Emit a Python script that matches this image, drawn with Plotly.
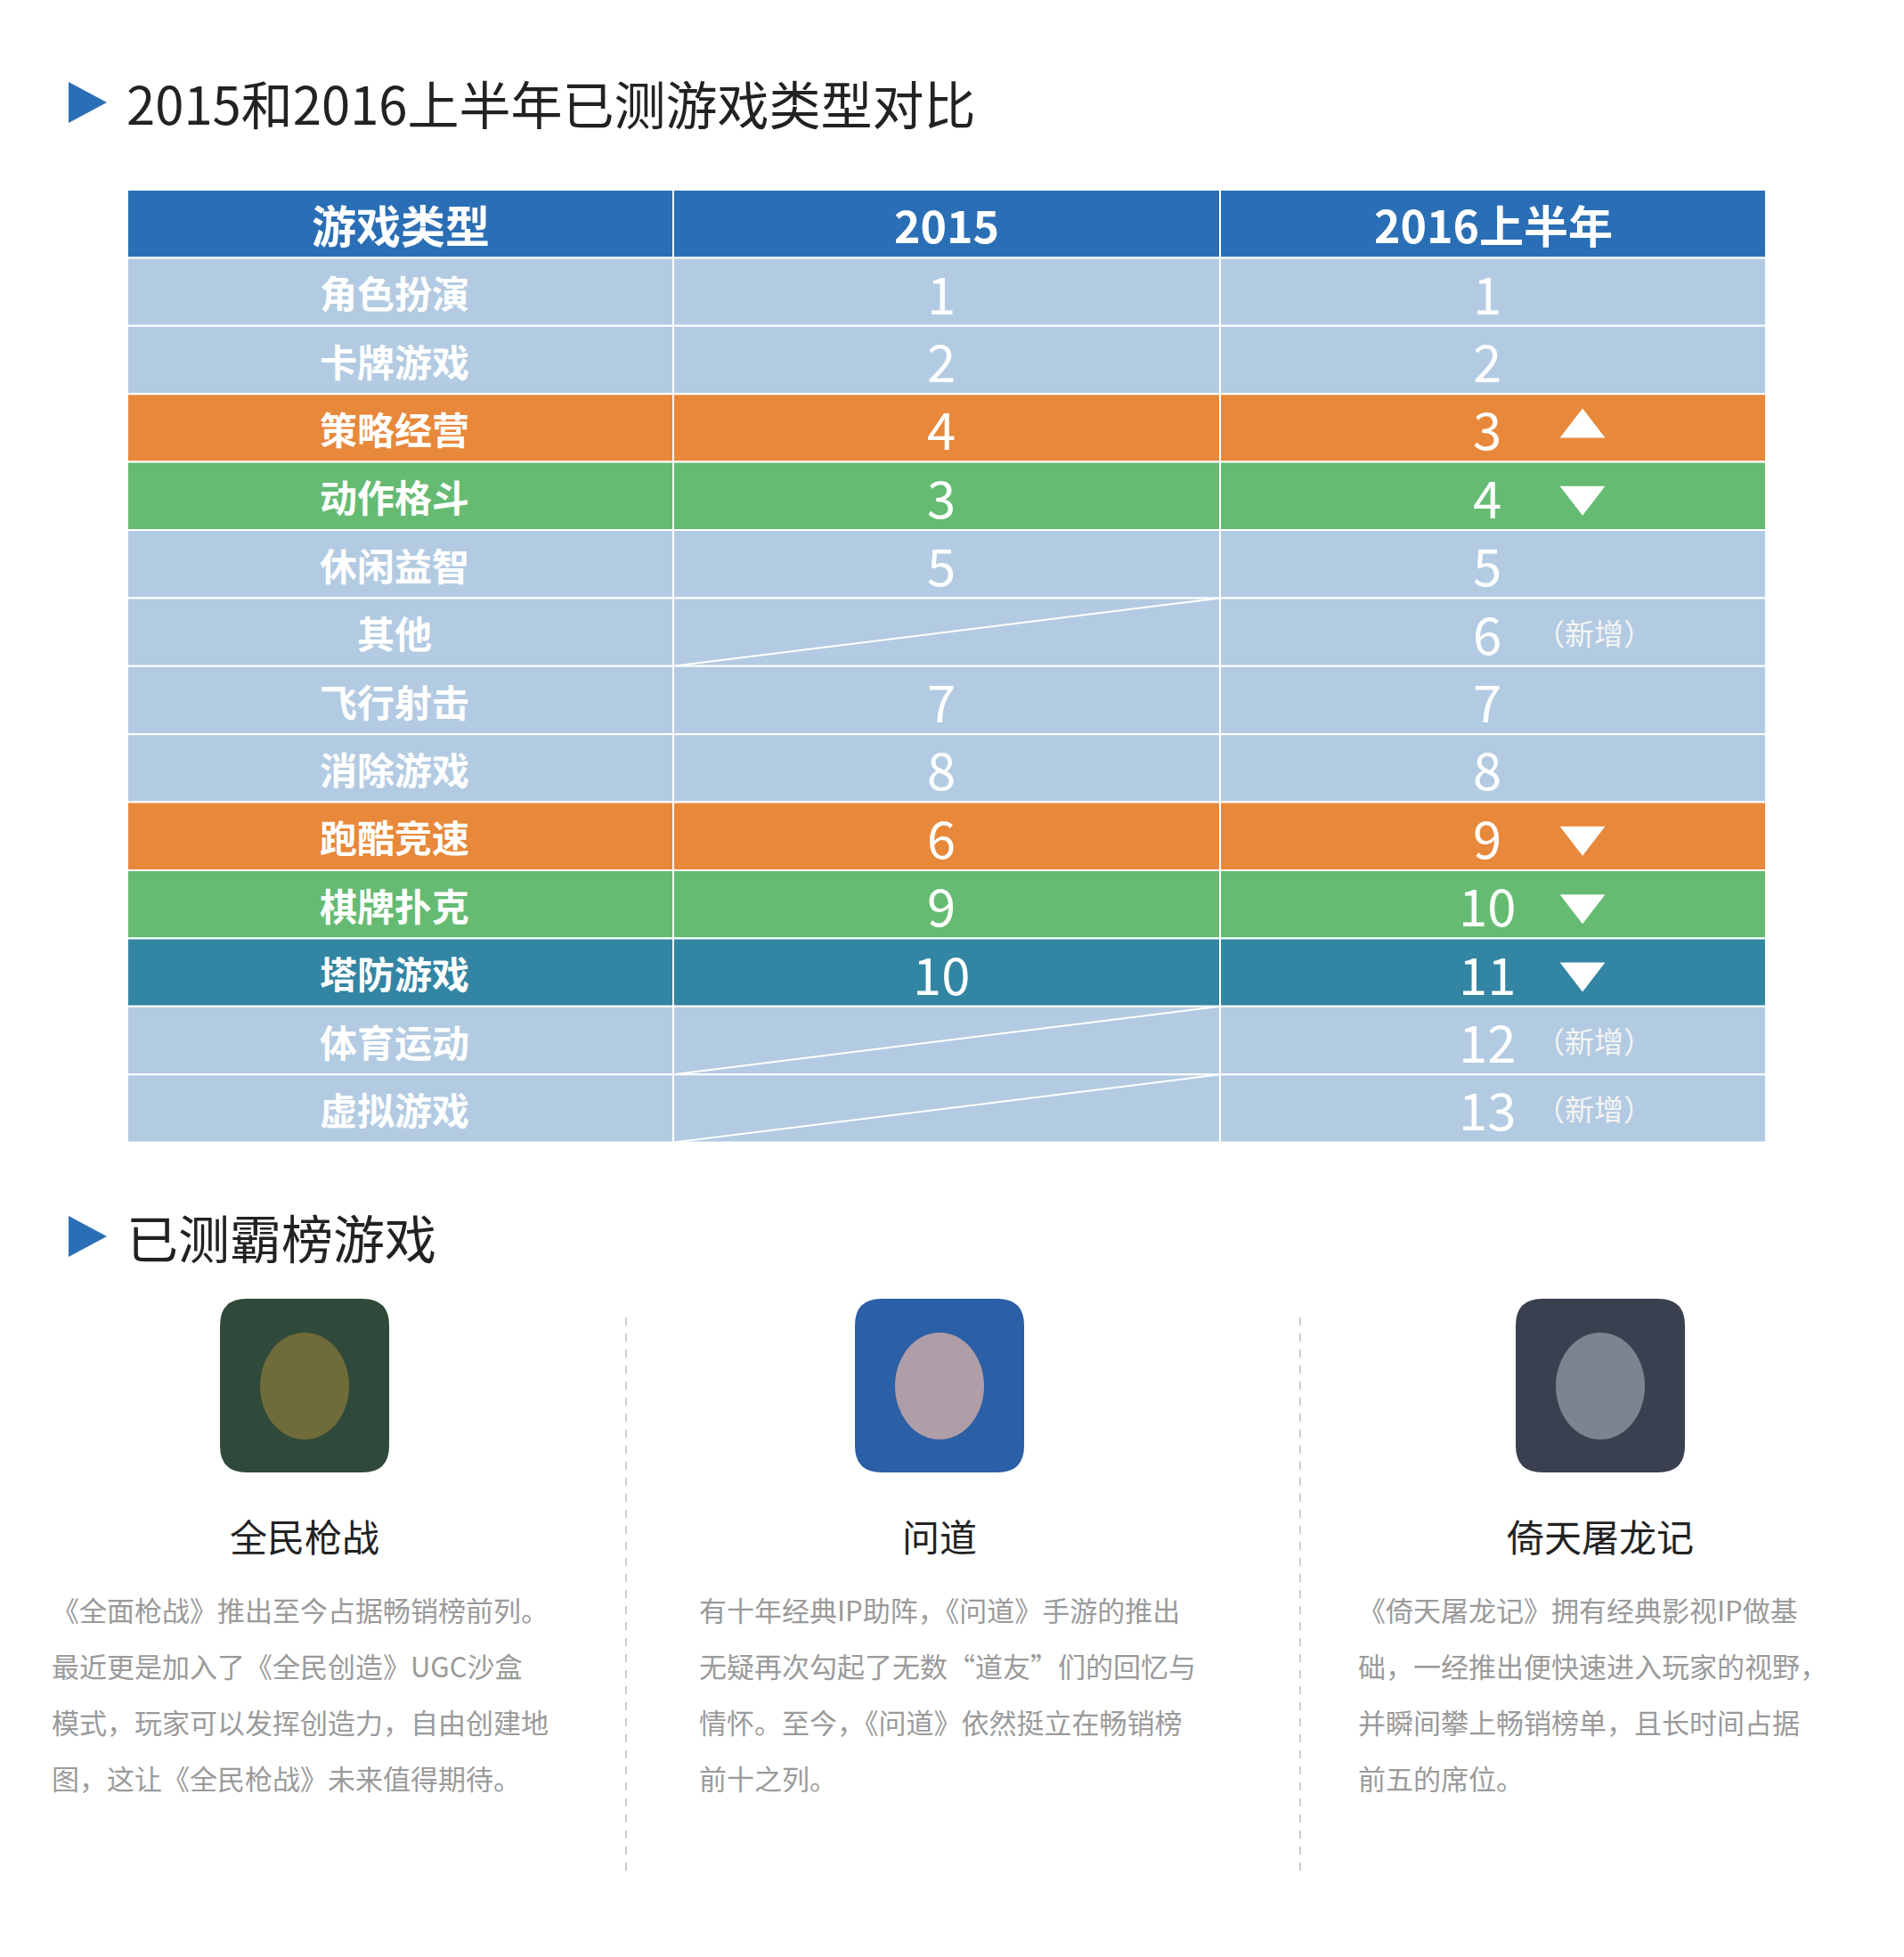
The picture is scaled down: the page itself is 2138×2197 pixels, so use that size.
import plotly.graph_objects as go

W, H = 2138, 2197
FONT = "Noto Sans CJK SC"
DX, DY = -8, -12  # compensate page body margin

title1 = "2015和2016上半年已测游戏类型对比"
title2 = "已测霸榜游戏"
headers = ["游戏类型", "2015", "2016上半年"]
categories = ["角色扮演", "卡牌游戏", "策略经营", "动作格斗", "休闲益智", "其他", "飞行射击",
              "消除游戏", "跑酷竞速", "棋牌扑克", "塔防游戏", "体育运动", "虚拟游戏"]
rank2015 = ["1", "2", "4", "3", "5", "", "7", "8", "6", "9", "10", "", ""]
rank2016 = ["1", "2", "3", "4", "5", "6", "7", "8", "9", "10", "11", "12", "13"]
trend = ["", "", "up", "down", "", "new", "", "", "down", "down", "down", "new", "new"]
row_kind = ["b", "b", "o", "g", "b", "b", "b", "b", "o", "g", "t", "b", "b"]
games = ["全民枪战", "问道", "倚天屠龙记"]
descs = [
    ["《全面枪战》推出至今占据畅销榜前列。", "最近更是加入了《全民创造》UGC沙盒",
     "模式，玩家可以发挥创造力，自由创建地", "图，这让《全民枪战》未来值得期待。"],
    ["有十年经典IP助阵，《问道》手游的推出", "无疑再次勾起了无数“道友”们的回忆与",
     "情怀。至今，《问道》依然挺立在畅销榜", "前十之列。"],
    ["《倚天屠龙记》拥有经典影视IP做基", "础，一经推出便快速进入玩家的视野，",
     "并瞬间攀上畅销榜单，且长时间占据", "前五的席位。"],
]

colors = {"b": "#b3cbe2", "o": "#e8883b", "g": "#66bb73", "t": "#3285a3"}
HEAD = "#2a6fb5"
cols = [143 + DX, 756 + DX, 1370 + DX, 1983 + DX]
top, rh = 217 + DY, 76.4

fig = go.Figure()
shapes, ann = [], []

def txt(x, y, t, size, color, xanchor="center", bold=False):
    ann.append(dict(x=x, y=y, text=("<b>%s</b>" % t) if bold else t, showarrow=False,
                    xanchor=xanchor, yanchor="middle",
                    font=dict(family=FONT, size=size, color=color)))

for ty, t in [(119 + DY, title1), (1392 + DY, title2)]:
    shapes.append(dict(type="path", path=f"M{77+DX},{ty-23} L{120+DX},{ty} L{77+DX},{ty+23} Z",
                       fillcolor="#2a6fb5", line_width=0, layer="below"))
    txt(140 + DX, ty, t, 58, "#222", xanchor="left")

for c in range(3):
    shapes.append(dict(type="rect", x0=cols[c], x1=cols[c+1], y0=top, y1=top+rh,
                       fillcolor=HEAD, line=dict(color="white", width=2), layer="below"))
    txt((cols[c]+cols[c+1])/2, top+rh/2, headers[c], 50, "white", bold=True)

tri_x, tri_y, tri_sym = [], [], []
for i, cat in enumerate(categories):
    y0 = top + rh*(i+1); y1 = y0 + rh; yc = (y0+y1)/2
    for c in range(3):
        shapes.append(dict(type="rect", x0=cols[c], x1=cols[c+1], y0=y0, y1=y1,
                           fillcolor=colors[row_kind[i]], line=dict(color="white", width=2),
                           layer="below"))
    txt(443 + DX, yc, cat, 42, "white", bold=True)
    if rank2015[i]:
        txt(1057 + DX, yc, rank2015[i], 58, "white")
    else:
        shapes.append(dict(type="line", x0=cols[1], y0=y1, x1=cols[2], y1=y0,
                           line=dict(color="white", width=2), layer="below"))
    txt(1670 + DX, yc, rank2016[i], 58, "white")
    if trend[i] in ("up", "down"):
        tri_x.append(1777 + DX); tri_y.append(yc)
        tri_sym.append("triangle-up" if trend[i] == "up" else "triangle-down")
    elif trend[i] == "new":
        txt(1722 + DX, yc, "（新增）", 33, "#f4f4f4", xanchor="left")

fig.add_trace(go.Scatter(x=tri_x, y=tri_y, mode="markers", hoverinfo="skip",
                         marker=dict(symbol=tri_sym, size=44, color="white",
                                     line=dict(width=0))))

centers = [342 + DX, 1055 + DX, 1797 + DX]
icon_cols = [("#2f4a3a", "#8a7a3a"), ("#2b5fa6", "#e8b8a8"), ("#3a4050", "#9aa0aa")]
for k, g in enumerate(games):
    cx = centers[k]
    x0, x1, y0, y1, r = cx-95, cx+95, 1462 + DY, 1657 + DY, 30
    shapes.append(dict(type="path", layer="below",
        path=f"M{x0+r},{y0} L{x1-r},{y0} Q{x1},{y0} {x1},{y0+r} L{x1},{y1-r} Q{x1},{y1} {x1-r},{y1} "
             f"L{x0+r},{y1} Q{x0},{y1} {x0},{y1-r} L{x0},{y0+r} Q{x0},{y0} {x0+r},{y0} Z",
        fillcolor=icon_cols[k][0], line_width=0))
    shapes.append(dict(type="circle", x0=cx-50, x1=cx+50, y0=y0+38, y1=y0+158, layer="below",
                       fillcolor=icon_cols[k][1], opacity=0.7, line_width=0))
    txt(cx, 1727 + DY, g, 42, "#222")
    lx = [56, 783, 1523][k] + DX
    for j, line in enumerate(descs[k]):
        txt(lx, 1810 + DY + 63*j, line, 31, "#9a9a9a", xanchor="left")

for sx in [703 + DX, 1460 + DX]:
    shapes.append(dict(type="line", x0=sx, x1=sx, y0=1483 + DY, y1=2110 + DY, layer="below",
                       line=dict(color="#cccccc", width=2, dash="dash")))

fig.update_layout(width=W, height=H, margin=dict(l=0, r=0, t=0, b=0),
                  plot_bgcolor="white", paper_bgcolor="white", showlegend=False,
                  shapes=shapes, annotations=ann,
                  xaxis=dict(range=[0, W], visible=False, fixedrange=True),
                  yaxis=dict(range=[H, 0], visible=False, fixedrange=True))
fig.write_html("out.html", config={"displayModeBar": False})
